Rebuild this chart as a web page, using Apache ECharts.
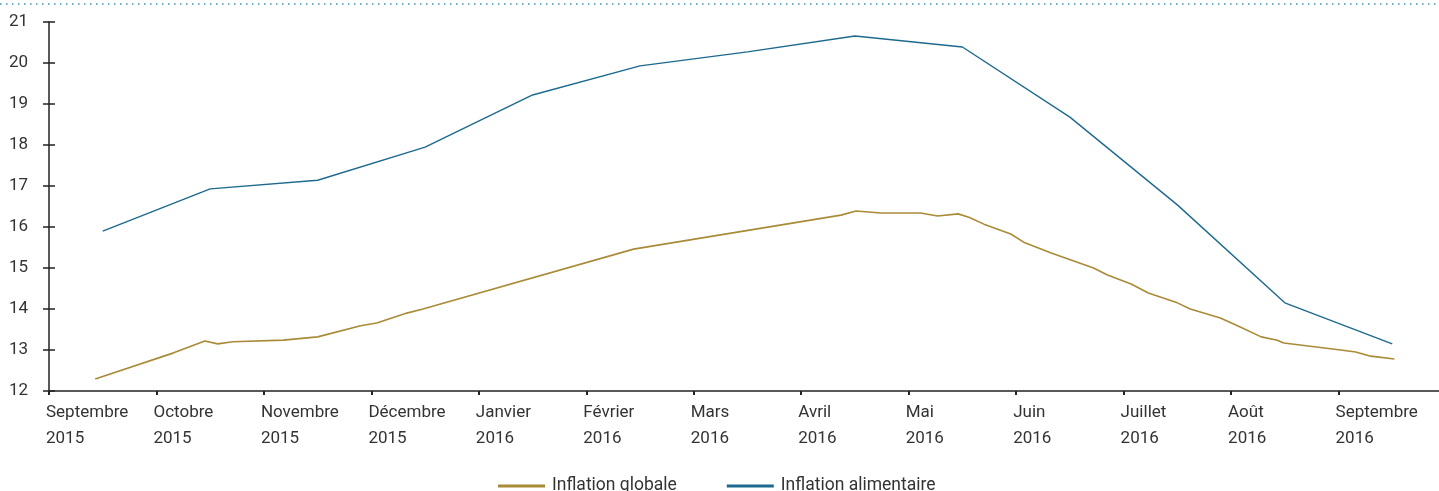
<!DOCTYPE html>
<html lang="fr">
<head>
<meta charset="UTF-8">
<title>Inflation globale et alimentaire</title>
<script src="https://cdn.jsdelivr.net/npm/echarts@6/dist/echarts.min.js"></script>
<style>
  html, body { margin: 0; padding: 0; background: #fff; }
  #chart { width: 1439px; height: 491px; }
</style>
</head>
<body>
<div id="chart"></div>
<script>
// mois (index 0 = septembre 2015)
var monthLabels = ['Septembre\n2015', 'Octobre\n2015', 'Novembre\n2015', 'Décembre\n2015',
  'Janvier\n2016', 'Février\n2016', 'Mars\n2016', 'Avril\n2016', 'Mai\n2016',
  'Juin\n2016', 'Juillet\n2016', 'Août\n2016', 'Septembre\n2016'];
var yTicks = [12, 13, 14, 15, 16, 17, 18, 19, 20, 21];

// Inflation globale (position en mois, valeur %)
var globaleX = [0.43, 1.16, 1.45, 1.57, 1.71, 2.18, 2.50, 2.90, 3.05, 3.33, 3.48, 5.44,
  7.37, 7.51, 7.74, 8.11, 8.27, 8.46, 8.56, 8.70, 8.95, 9.07, 9.32, 9.72, 9.85,
  10.07, 10.23, 10.50, 10.62, 10.90, 11.06, 11.28, 11.43, 11.49, 12.02, 12.16, 12.30, 12.52];
var globaleY = [12.29, 12.93, 13.22, 13.15, 13.20, 13.24, 13.32, 13.59, 13.66, 13.90, 14.00, 15.46,
  16.29, 16.39, 16.34, 16.34, 16.27, 16.32, 16.24, 16.07, 15.83, 15.63, 15.37, 15.00, 14.83,
  14.61, 14.39, 14.15, 14.00, 13.78, 13.59, 13.32, 13.24, 13.17, 13.00, 12.95, 12.85, 12.78];

// Inflation alimentaire
var alimX = [0.5, 1.5, 2.5, 3.5, 4.5, 5.5, 6.5, 7.5, 8.5, 9.5, 10.5, 11.5, 12.5];
var alimY = [15.90, 16.93, 17.14, 17.95, 19.22, 19.93, 20.27, 20.66, 20.39, 18.68, 16.54, 14.15, 13.15];

function pairs(xs, ys) {
  return xs.map(function (x, i) { return [x, ys[i]]; });
}

var font = 'Roboto';
var textColor = '#333';
var axisColor = '#222';

var option = {
  animation: false,
  textStyle: { fontFamily: font },
  grid: { left: 49, width: 1397, top: 22, bottom: 100, containLabel: false, outerBoundsMode: 'none' },
  graphic: [{
    type: 'line',
    shape: { x1: 0, y1: 4, x2: 1439, y2: 4 },
    style: { stroke: '#3f93b4', lineWidth: 1.5, lineDash: [1.5, 4.5] }
  }],
  legend: {
    bottom: -9,
    left: 493,
    itemGap: 50,
    itemWidth: 47,
    itemHeight: 3,
    icon: 'rect',
    textStyle: { color: textColor, fontSize: 17.5, fontFamily: font, padding: [0, 0, 0, 2] },
    data: ['Inflation globale', 'Inflation alimentaire']
  },
  xAxis: {
    type: 'value',
    min: 0,
    max: 13,
    interval: 1,
    splitLine: { show: false },
    axisLine: { show: true, onZero: false, lineStyle: { color: axisColor, width: 1.5 } },
    axisTick: { show: true, length: 4, lineStyle: { color: axisColor, width: 2 } },
    axisLabel: {
      color: textColor,
      fontSize: 17,
      fontFamily: font,
      align: 'left',
      margin: 9,
      lineHeight: 26,
      padding: [0, 0, 0, -3],
      showMaxLabel: false,
      formatter: function (v) { return monthLabels[v] || ''; }
    }
  },
  yAxis: [{
    type: 'value',
    min: yTicks[0],
    max: yTicks[yTicks.length - 1],
    interval: 1,
    splitLine: { show: false },
    axisLine: { show: true, lineStyle: { color: axisColor, width: 1.5 } },
    axisTick: { show: true, length: 6, lineStyle: { color: axisColor, width: 1.5 } },
    axisLabel: { color: textColor, fontSize: 17, fontFamily: font, margin: 21 }
  }, {
    type: 'value',
    position: 'left',
    min: yTicks[0],
    max: yTicks[yTicks.length - 1],
    interval: 1,
    splitLine: { show: false },
    axisLine: { show: false },
    axisTick: { show: true, inside: true, length: 6, lineStyle: { color: axisColor, width: 1.5 } },
    axisLabel: { show: false }
  }],
  series: [{
    name: 'Inflation globale',
    type: 'line',
    data: pairs(globaleX, globaleY),
    showSymbol: false,
    symbol: 'none',
    color: '#a98b37',
    lineStyle: { width: 1.6, color: '#a98b37' }
  }, {
    name: 'Inflation alimentaire',
    type: 'line',
    data: pairs(alimX, alimY),
    showSymbol: false,
    symbol: 'none',
    color: '#1d6a8e',
    lineStyle: { width: 1.4, color: '#1d6a8e' }
  }]
};

var chart = echarts.init(document.getElementById('chart'));
chart.setOption(option);
</script>
</body>
</html>
